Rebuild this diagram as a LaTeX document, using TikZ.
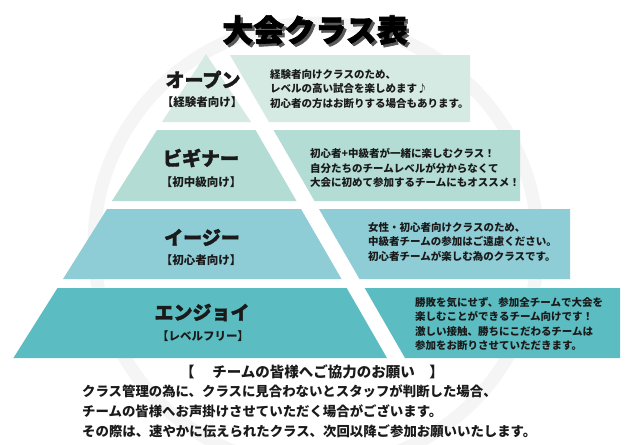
\documentclass[tikz,border=0pt]{standalone}
\usepackage{fontspec}
\newfontfamily\jp{Noto Sans CJK JP}
\newfontfamily\jpheavy[BoldFeatures={FakeBold=2}]{Noto Sans CJK JP}
\definecolor{tierA}{HTML}{D5EAE3}
\definecolor{tierB}{HTML}{B2DCD4}
\definecolor{tierC}{HTML}{8ECDD6}
\definecolor{tierD}{HTML}{5BBDC2}
\definecolor{ink}{HTML}{1A1A1A}
\definecolor{logoGray}{HTML}{F5F5F5}

\begin{document}
\begin{tikzpicture}[x=1pt,y=-1pt,
  cls/.style={font=\jpheavy\bfseries\fontsize{19}{19}\selectfont,text=ink,inner sep=0pt},
  sub/.style={font=\jp\bfseries\fontsize{11.5}{11.5}\selectfont,text=ink,inner sep=0pt},
  memo/.style={font=\jp\bfseries\fontsize{10.5}{14.5}\selectfont,text=ink,align=left,anchor=west,inner sep=0pt}]
  \useasboundingbox[fill=white] (0,0) rectangle (630,445);
  % faint logo behind
  \draw[logoGray,line width=13pt] (316,245) circle (222pt);

  % pyramid, cut by the white band
  \fill[tierA] (206,54) -- (251,122) -- (162,122) -- cycle;
  \fill[tierA] (230,55) -- (470,55) -- (470,122) -- (269,122) -- cycle;
  \fill[tierB] (157,130) -- (255.5,130) -- (296.5,201) -- (112,201) -- cycle;
  \fill[tierB] (273.5,130) -- (520,130) -- (520,201) -- (314.5,201) -- cycle;
  \fill[tierC] (107,209) -- (301,209) -- (341.5,279) -- (63,279) -- cycle;
  \fill[tierC] (319,209) -- (570,209) -- (570,279) -- (359.5,279) -- cycle;
  \fill[tierD] (57.5,288) -- (346.7,288) -- (387,358) -- (13.4,358) -- cycle;
  \fill[tierD] (364.7,288) -- (620,288) -- (620,358) -- (405,358) -- cycle;

  % title with shadow
  \node[font=\jpheavy\bfseries\fontsize{31}{31}\selectfont,text=black!65] (titleShadow) at (317.5,32.5) {大会クラス表};
  \node[font=\jpheavy\bfseries\fontsize{31}{31}\selectfont,text=black] (title) at (315,30) {大会クラス表};

  \node[cls] (open) at (203,79.5) {オープン};
  \node[sub] (openSub) at (202,102.5) {【経験者向け】};
  \node[cls] (begin) at (201,158) {ビギナー};
  \node[sub] (beginSub) at (201,182.5) {【初中級向け】};
  \node[cls] (easy) at (202,237.5) {イージー};
  \node[sub] (easySub) at (201,260) {【初心者向け】};
  \node[cls] (enjoy) at (202,312.5) {エンジョイ};
  \node[sub] (enjoySub) at (203,336) {【レベルフリー】};

  \node[memo] (openMemo) at (270,89) {経験者向けクラスのため、\\レベルの高い試合を楽しめます♪\\初心者の方はお断りする場合もあります。};
  \node[memo] (beginMemo) at (310,168) {初心者+中級者が一緒に楽しむクラス！\\自分たちのチームレベルが分からなくて\\大会に初めて参加するチームにもオススメ！};
  \node[memo] (easyMemo) at (368,242) {女性・初心者向けクラスのため、\\中級者チームの参加はご遠慮ください。\\初心者チームが楽しむ為のクラスです。};
  \node[memo] (enjoyMemo) at (415,324) {勝敗を気にせず、参加全チームで大会を\\楽しむことができるチーム向けです！\\激しい接触、勝ちにこだわるチームは\\参加をお断りさせていただきます。};

  % note below
  \node[font=\jp\bfseries\fontsize{14.5}{14.5}\selectfont,text=ink,inner sep=0pt] (notice) at (312,372) {【　 チームの皆様へご協力のお願い　】};
  \node[font=\jp\bfseries\fontsize{13.4}{20}\selectfont,text=ink,align=left,anchor=west,inner sep=0pt] (noticeText) at (82,411) {クラス管理の為に、クラスに見合わないとスタッフが判断した場合、\\チームの皆様へお声掛けさせていただく場合がございます。\\その際は、速やかに伝えられたクラス、次回以降ご参加お願いいたします。};
\end{tikzpicture}
\end{document}
